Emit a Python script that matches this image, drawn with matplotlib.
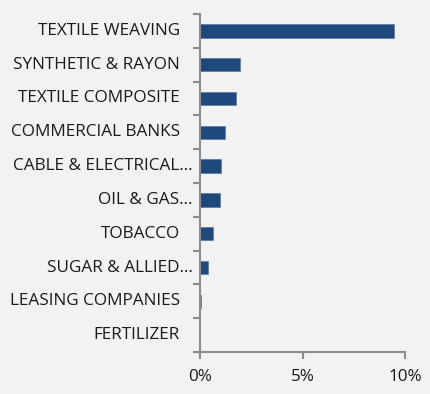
import matplotlib
matplotlib.use("Agg")
import matplotlib.pyplot as plt
from matplotlib.ticker import FuncFormatter

categories = ["TEXTILE WEAVING", "SYNTHETIC & RAYON", "TEXTILE COMPOSITE",
              "COMMERCIAL BANKS", "CABLE & ELECTRICAL…", "OIL & GAS…",
              "TOBACCO", "SUGAR & ALLIED…", "LEASING COMPANIES", "FERTILIZER"]
values = [9.46, 1.97, 1.76, 1.20, 1.02, 0.98, 0.62, 0.37, 0.03, 0.01]
truncated = [False, False, False, False, True, True, False, True, False, False]
xticks = [0, 5, 10]

bg = "#f2f2f2"
bar_color = "#1f497d"
axis_color = "#8c8c8c"

fig = plt.figure(figsize=(4.3, 3.94), dpi=100, facecolor=bg)
ax = fig.add_axes([200/430, 1-352/394, 205/430, 338/394])
ax.set_facecolor(bg)

n = len(categories)
ypos = list(range(n))
ax.barh(ypos, values, height=0.4, color=bar_color, edgecolor="#4f6f99", linewidth=0.4)
ax.set_ylim(n - 0.5, -0.5)
ax.set_xlim(0, 10)
ax.set_xticks(xticks)
ax.xaxis.set_major_formatter(FuncFormatter(lambda v, p: f"{v:.0f}%"))
ax.set_yticks([i - 0.5 for i in range(n + 1)])
ax.set_yticklabels([])

for s in ["top", "right"]:
    ax.spines[s].set_visible(False)
for s in ["left", "bottom"]:
    ax.spines[s].set_color(axis_color)
    ax.spines[s].set_linewidth(1.5)
ax.tick_params(axis="both", color=axis_color, width=1.5, length=5, direction="out")
ax.tick_params(axis="x", labelsize=12.3, pad=7, labelcolor="#1a1a1a")
for lab in ax.get_xticklabels():
    lab.set_fontfamily("Open Sans")

for i, (c, t) in enumerate(zip(categories, truncated)):
    off = -7 if t else -20
    ax.annotate(c, xy=(0, i), xycoords=("axes fraction", "data"),
                xytext=(off, 0), textcoords="offset pixels",
                ha="right", va="center", fontsize=12.3, color="#1a1a1a",
                fontfamily="Open Sans")

fig.savefig("out.png", dpi=100, facecolor=bg)
